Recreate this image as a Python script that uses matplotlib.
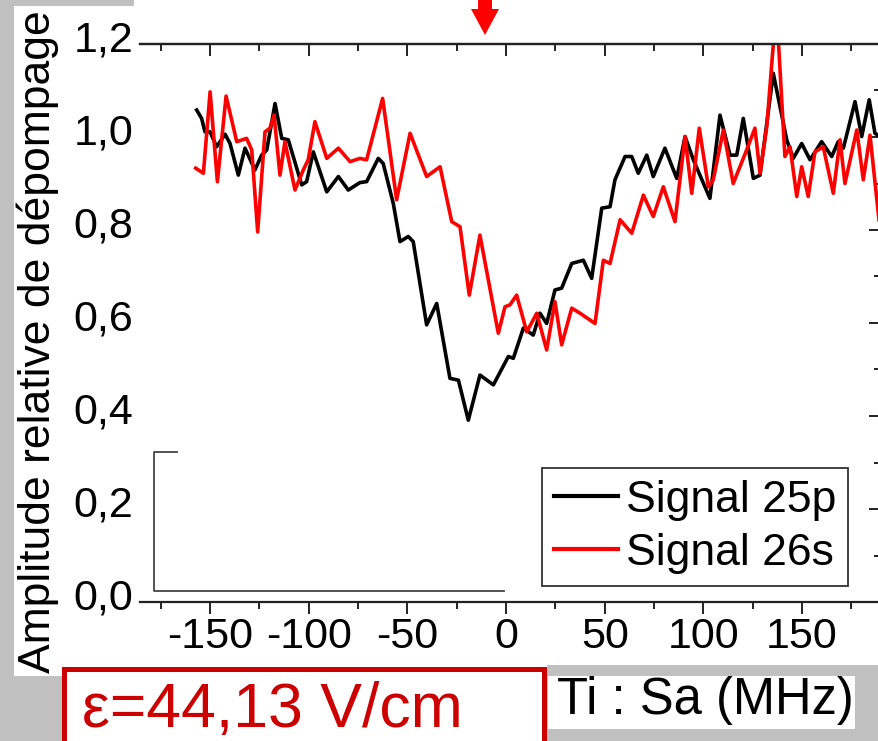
import matplotlib
matplotlib.use('Agg')
import matplotlib.pyplot as plt
from matplotlib.patches import Rectangle, Polygon
from matplotlib.lines import Line2D
from matplotlib.ticker import MultipleLocator, FixedLocator, FixedFormatter
import matplotlib.transforms as mtransforms

plt.rcParams['font.family'] = ['Liberation Sans', 'DejaVu Sans']

# ---------------- data ----------------
black_x = [-156.7, -154.2, -152.5, -149.9, -146.6, -142.3, -139.8, -135.6, -132.2, -127.2,
           -123.8, -121.2, -117.0, -113.6, -110.3, -103.5, -101.0, -97.6, -90.8, -84.9,
           -79.9, -74.0, -70.6, -64.7, -62.2, -57.1, -53.7, -49.5, -47.0, -40.2,
           -35.1, -28.4, -24.1, -19.1, -13.2, -6.4, 1.2, 3.7, 8.8, 13.8,
           17.2, 20.6, 24.8, 28.2, 33.3, 39.2, 43.4, 48.5, 52.7, 55.2,
           60.3, 63.7, 67.0, 71.3, 74.6, 80.5, 86.5, 90.7, 94.9, 103.3,
           108.4, 113.5, 116.9, 120.2, 125.3, 128.7, 135.4, 142.2, 145.5, 149.8,
           154.0, 159.9, 165.0, 168.3, 170.9, 176.8, 180.2, 184.0, 186.9, 189.5]
black_y = [1.058, 1.040, 1.011, 1.011, 0.979, 1.006, 0.986, 0.918, 0.976, 0.929,
           0.961, 0.972, 1.072, 0.997, 0.994, 0.897, 0.904, 0.968, 0.882, 0.915,
           0.886, 0.902, 0.904, 0.954, 0.943, 0.857, 0.775, 0.786, 0.775, 0.596,
           0.642, 0.481, 0.477, 0.391, 0.488, 0.467, 0.528, 0.524, 0.589, 0.574,
           0.621, 0.599, 0.671, 0.675, 0.728, 0.735, 0.696, 0.847, 0.850, 0.908,
           0.958, 0.958, 0.922, 0.961, 0.915, 0.976, 0.911, 1.001, 0.951, 0.868,
           1.047, 0.961, 0.961, 1.040, 0.911, 0.918, 1.137, 0.994, 0.954, 0.986,
           0.951, 0.990, 0.958, 0.990, 0.976, 1.076, 1.001, 1.080, 1.008, 1.001]

red_x = [-157.2, -153.3, -149.9, -146.2, -141.8, -136.4, -131.4, -128.8, -125.8, -122.1,
         -119.6, -117.5, -114.5, -112.0, -106.9, -102.7, -100.2, -96.8, -90.8, -84.9,
         -79.0, -74.0, -70.6, -62.5, -55.4, -48.6, -40.2, -33.4, -27.5, -23.3,
         -18.6, -13.2, -3.9, -0.5, 2.0, 5.4, 10.5, 15.6, 20.6, 24.8,
         28.2, 33.3, 37.5, 45.1, 49.3, 52.7, 57.8, 63.7, 69.6, 74.6,
         79.7, 85.6, 90.7, 94.1, 97.9, 102.5, 105.0, 110.1, 115.1, 121.9,
         126.1, 128.7, 132.1, 135.8, 137.8, 141.3, 143.9, 147.3, 149.8, 153.1,
         156.5, 160.7, 165.8, 169.2, 171.7, 177.7, 181.0, 184.4, 189.5]
red_y = [0.933, 0.922, 1.097, 0.904, 1.088, 0.990, 0.997, 0.972, 0.796, 1.011,
         1.019, 1.047, 0.918, 0.990, 0.886, 0.929, 0.951, 1.033, 0.954, 0.976,
         0.947, 0.954, 0.951, 1.083, 0.865, 1.008, 0.915, 0.936, 0.818, 0.807,
         0.660, 0.789, 0.578, 0.635, 0.639, 0.660, 0.581, 0.621, 0.542, 0.646,
         0.553, 0.632, 0.621, 0.599, 0.735, 0.728, 0.822, 0.793, 0.875, 0.829,
         0.893, 0.818, 1.001, 0.879, 1.019, 0.893, 0.908, 1.015, 0.900, 0.972,
         1.019, 0.922, 1.022, 1.22, 1.22, 0.958, 0.979, 0.872, 0.936, 0.872,
         0.968, 0.979, 0.879, 0.994, 0.900, 1.015, 0.908, 1.004, 0.800]

series_labels = ['Signal 25p', 'Signal 26s']
x_ticks = [-150, -100, -50, 0, 50, 100, 150]
x_tick_labels = ['-150', '-100', '-50', '0', '50', '100', '150']
y_ticks = [0.0, 0.2, 0.4, 0.6, 0.8, 1.0, 1.2]
y_tick_labels = ['0,0', '0,2', '0,4', '0,6', '0,8', '1,0', '1,2']
y_label = 'Amplitude relative de dépompage'
x_label = 'Ti : Sa (MHz)'
field_text = 'ε=44,13 V/cm'

# ---------------- figure ----------------
W, H = 879, 741
fig = plt.figure(figsize=(W / 100, H / 100), dpi=100)
fig.patch.set_facecolor('#c0c0c0')


def fx(px):
    return px / W


def fy(py):
    return 1 - py / H


def rect_px(x0, y0, x1, y1, **kw):
    r = Rectangle((fx(x0), fy(y1)), fx(x1) - fx(x0), fy(y0) - fy(y1),
                  transform=fig.transFigure, **kw)
    fig.add_artist(r)
    return r


# white backgrounds
rect_px(14, 6, 890, 676, facecolor='white', edgecolor='none', zorder=-10)
rect_px(134, -5, 890, 10, facecolor='white', edgecolor='none', zorder=-10)
# gray region bottom right + white label box
rect_px(547, 665, 890, 750, facecolor='#c0c0c0', edgecolor='none', zorder=4)
rect_px(548, 676, 855, 729, facecolor='white', edgecolor='none', zorder=5)

# axes
ax_left, ax_right, ax_top, ax_bot = 140, 881, 44, 602
ax = fig.add_axes([fx(ax_left), fy(ax_bot), fx(ax_right) - fx(ax_left), fy(ax_top) - fy(ax_bot)])
ax.set_facecolor('none')
xmin = (ax_left - 506) / 1.974
xmax = (ax_right - 506) / 1.974
ax.set_xlim(xmin, xmax)
ax.set_ylim(0, 1.2)

ax.plot(black_x, black_y, color='black', lw=2.6, label=series_labels[0], solid_joinstyle='round')
ax.plot(red_x, red_y, color='#ff0000', lw=2.6, label=series_labels[1], solid_joinstyle='round')

ax.xaxis.set_major_locator(FixedLocator(x_ticks))
ax.xaxis.set_major_formatter(FixedFormatter(x_tick_labels))
ax.xaxis.set_minor_locator(MultipleLocator(25))
ax.yaxis.set_major_locator(FixedLocator(y_ticks))
ax.yaxis.set_major_formatter(FixedFormatter(y_tick_labels))
ax.yaxis.set_minor_locator(MultipleLocator(0.1))

ax.tick_params(axis='x', which='both', direction='out', bottom=True, top=False,
               labelsize=31, pad=2.5, width=1.4, color='#222222')
ax.tick_params(axis='x', which='major', length=8.6)
ax.tick_params(axis='x', which='minor', length=5)
ax.tick_params(axis='y', which='both', direction='in', left=False, right=True,
               labelleft=True, labelsize=31, pad=5, width=1.4, color='#222222')
ax.tick_params(axis='y', which='major', length=9)
ax.tick_params(axis='y', which='minor', length=5)

ax.spines['left'].set_visible(False)
for side in ['top', 'bottom', 'right']:
    ax.spines[side].set_linewidth(1.6)
    ax.spines[side].set_color('#222222')

sec = ax.secondary_xaxis('top')
sec.xaxis.set_major_locator(FixedLocator(x_ticks))
sec.xaxis.set_minor_locator(MultipleLocator(25))
sec.tick_params(axis='x', which='both', direction='in', labeltop=False, width=1.4, color='#222222')
sec.tick_params(axis='x', which='major', length=8.6)
sec.tick_params(axis='x', which='minor', length=5)
sec.spines['top'].set_linewidth(1.6)
sec.spines['top'].set_color('#222222')

offset = mtransforms.ScaledTranslation(0, 8 / 100, fig.dpi_scale_trans)
for lab in ax.yaxis.get_majorticklabels():
    lab.set_transform(lab.get_transform() + offset)

leg = ax.legend(loc='upper left', bbox_to_anchor=(fx(542), fy(468)),
                bbox_transform=fig.transFigure, frameon=True, fancybox=False,
                fontsize=32, handlelength=1.45, handletextpad=0.18, borderpad=0.26,
                labelspacing=0.28, borderaxespad=0, framealpha=1)
leg.get_frame().set_edgecolor('#333333')
leg.get_frame().set_linewidth(1.3)
for ln in leg.get_lines():
    ln.set_linewidth(3)

# y label
fig.text(fx(38), fy(342), y_label, rotation=90, fontsize=32, ha='center', va='center')

# odd L-shaped frame lines
fig.add_artist(Line2D([fx(177), fx(154), fx(154), fx(504)], [fy(452), fy(452), fy(591), fy(591)],
                      transform=fig.transFigure, color='#444444', lw=1.3))

# red arrow at top
arrow_px = [(478, -2), (492, -2), (492, 9), (499, 9), (485, 35), (471, 9), (478, 9)]
fig.add_artist(Polygon([(fx(a), fy(b)) for a, b in arrow_px], closed=True,
                       transform=fig.transFigure, facecolor='#ff0000', edgecolor='none', zorder=6))

# red field box
rect_px(64.5, 668.5, 544.5, 760, facecolor='white', edgecolor='#cc0000', lw=3.6, zorder=5)
fig.text(fx(82), fy(727), field_text, color='#cc0000', fontsize=45, ha='left', va='baseline', zorder=6)

# x label
fig.text(fx(557), fy(714), x_label, fontsize=36.5, ha='left', va='baseline', zorder=6)

fig.savefig('out.png', dpi=100, facecolor=fig.get_facecolor())
